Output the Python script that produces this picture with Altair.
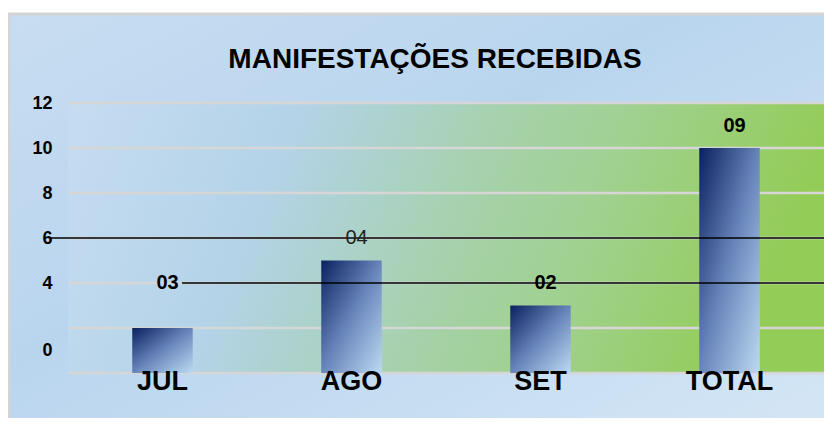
import altair as alt
import pandas as pd

title_text = "MANIFESTAÇÕES RECEBIDAS"
categories = ["JUL", "AGO", "SET", "TOTAL"]
bar_values = [2, 5, 3, 10]
label_texts = ["03", "04", "02", "09"]
label_y = [4, 6, 4, 11]
label_bold = [True, False, True, True]
grid_values = [0, 2, 4, 6, 8, 10, 12]
y_label_values = [1, 4, 6, 8, 10, 12]
rule_values = [6, 4]
rule_start_px = [-18, 114]

W, H = 756, 270
FONT = "Liberation Sans"

bars_df = pd.DataFrame({"cat": categories, "value": bar_values,
                        "label": label_texts, "ly": label_y, "bold": label_bold})
grid_df = pd.DataFrame({"g": grid_values})
rules_df = pd.DataFrame({"r": rule_values, "start": rule_start_px})
title_df = pd.DataFrame({"t": [title_text]})
one = pd.DataFrame({"a": [0]})

xscale = alt.Scale(domain=categories, paddingInner=0.68, paddingOuter=0.34)
yscale = alt.Scale(domain=[0, 12], nice=False)

outer_bg = alt.Chart(one).mark_rect(
    fill=alt.Gradient(gradient="linear", x1=0, y1=0, x2=1, y2=1,
                      stops=[alt.GradientStop(color="#c8ddf1", offset=0),
                             alt.GradientStop(color="#b9d5ee", offset=0.4),
                             alt.GradientStop(color="#d6e7f6", offset=1)]),
    stroke="#d4d4d4", strokeWidth=3,
).encode(x=alt.value(-59), x2=alt.value(W + 20), y=alt.value(-89), y2=alt.value(H + 80))

plot_bg = alt.Chart(one).mark_rect(
    fill=alt.Gradient(gradient="linear", x1=0, y1=0, x2=1, y2=0.15,
                      stops=[alt.GradientStop(color="#c6dcf1", offset=0),
                             alt.GradientStop(color="#b4d3e8", offset=0.3),
                             alt.GradientStop(color="#acd2cc", offset=0.43),
                             alt.GradientStop(color="#a6d1aa", offset=0.58),
                             alt.GradientStop(color="#a0d190", offset=0.74),
                             alt.GradientStop(color="#94cc58", offset=1)]),
).encode(x=alt.value(0), x2=alt.value(W), y=alt.value(0), y2=alt.value(H))

grid = alt.Chart(grid_df).mark_rule(color="#d6d6d6", strokeWidth=2.5).encode(
    y=alt.Y("g:Q", scale=yscale)
)

bars = alt.Chart(bars_df).mark_bar(
    color=alt.Gradient(gradient="linear", x1=0, y1=0, x2=1, y2=1,
                       stops=[alt.GradientStop(color="#0a215f", offset=0),
                              alt.GradientStop(color="#6885bb", offset=0.5),
                              alt.GradientStop(color="#bcdaf1", offset=1)]),
).encode(
    x=alt.X("cat:N", scale=xscale, sort=categories,
            axis=alt.Axis(title=None, labelAngle=0, domain=False, ticks=False,
                          labelFont=FONT, labelFontSize=27, labelFontWeight="bold",
                          labelColor="#000000", labelPadding=-5, zindex=1)),
    y=alt.Y("value:Q", scale=yscale,
            axis=alt.Axis(title=None, values=y_label_values, grid=False, domain=False,
                          ticks=False, labelFont=FONT, labelFontSize=18,
                          labelFontWeight="bold", labelColor="#000000", labelPadding=16,
                          labelExpr="datum.value == 1 ? '0' : datum.label", zindex=1)),
)

black_rules = alt.Chart(rules_df).mark_rule(color="#000000", strokeWidth=1.3).encode(
    x=alt.X("start:Q", scale=None), x2=alt.value(W + 10), y=alt.Y("r:Q", scale=yscale)
)

labels_bold = alt.Chart(bars_df).transform_filter("datum.bold").mark_text(
    font=FONT, fontSize=20, fontWeight="bold", color="#000000", dx=5
).encode(x=alt.X("cat:N", scale=xscale, sort=categories),
         y=alt.Y("ly:Q", scale=yscale), text="label:N")

labels_plain = alt.Chart(bars_df).transform_filter("!datum.bold").mark_text(
    font=FONT, fontSize=20, fontWeight="normal", color="#222222", dx=5
).encode(x=alt.X("cat:N", scale=xscale, sort=categories),
         y=alt.Y("ly:Q", scale=yscale), text="label:N")

title = alt.Chart(title_df).mark_text(
    font=FONT, fontSize=28, fontWeight="bold", color="#000000",
    align="center", baseline="alphabetic"
).encode(x=alt.value(367), y=alt.value(-35), text="t:N")

chart = alt.layer(outer_bg, plot_bg, grid, bars, black_rules, labels_bold, labels_plain,
                  title).properties(
    width=W, height=H,
    autosize=alt.AutoSizeParams(type="none"),
    padding={"left": 60, "top": 95, "right": 0, "bottom": 45},
    background="#ffffff",
).configure_view(stroke=None)

chart.save("out.html", embed_options={"renderer": "svg", "actions": False})
